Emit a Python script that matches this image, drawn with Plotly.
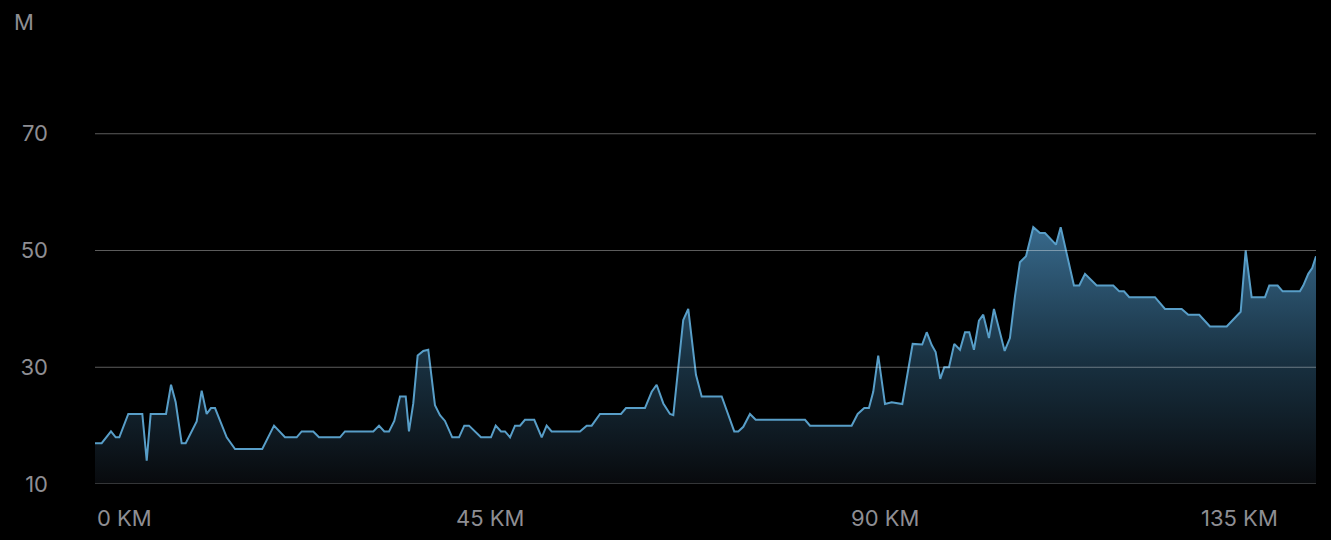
import plotly.graph_objects as go

# distance along route (km) and elevation (m)
distance_km = [0, 0.76, 1.82, 2.36, 2.77, 3.79, 5.13, 5.39, 5.89, 6.34, 7.78, 8.09, 8.66, 9.19,
               9.87, 10.33, 11.58, 12.15, 12.72, 13.21, 13.67, 14.24, 15.0, 15.95, 19.05, 20.39,
               21.64, 22.97, 23.54, 24.86, 25.51, 27.90, 28.47, 31.70, 32.35, 32.95, 33.49, 34.09,
               34.74, 35.39, 35.76, 36.25, 36.75, 37.39, 37.96, 38.72, 39.29, 39.86, 40.69, 41.46,
               42.06, 42.60, 43.96, 45.10, 45.64, 46.24, 46.70, 47.27, 47.84, 48.41, 48.97, 50.03,
               50.88, 51.44, 52.01, 55.24, 56.00, 56.57, 57.52, 59.91, 60.48, 62.64, 63.41, 63.97,
               64.73, 65.49, 65.87, 67.00, 67.57, 68.45, 69.10, 70.62, 71.38, 72.81, 73.27, 73.84,
               74.60, 75.25, 80.87, 81.44, 86.18, 86.87, 87.62, 88.15, 88.64, 89.21, 89.98, 90.74,
               91.95, 93.13, 94.22, 94.73, 95.30, 95.75, 96.27, 96.73, 97.27, 97.87, 98.52, 99.09,
               99.58, 100.11, 100.68, 101.17, 101.82, 102.39, 103.08, 103.61, 104.21, 104.78,
               105.35, 106.04, 106.87, 107.63, 108.20, 109.45, 109.99, 111.50, 112.11, 112.76,
               114.09, 115.98, 116.66, 117.20, 117.80, 120.73, 121.87, 123.77, 124.52, 125.77,
               126.99, 128.90, 130.49, 131.06, 131.74, 132.31, 133.26, 133.75, 134.70, 135.27,
               137.24, 137.62, 138.19, 138.64, 139.07]
elevation_m = [17, 17, 19, 18, 18, 22, 22, 22, 14, 22, 22, 22, 27, 24,
               17, 17, 20.7, 26, 22, 23, 23, 21, 18, 16, 16, 20,
               18, 18, 19, 19, 18, 18, 19, 19, 20, 19, 19, 20.8,
               25, 25, 19, 23.8, 32, 32.8, 33, 23.5, 21.8, 20.8, 18, 18,
               20, 20, 18, 18, 20, 19, 19, 18, 20, 20, 21, 21,
               18, 20, 19, 19, 20, 20, 22, 22, 23, 23, 25.8, 27,
               23.8, 22, 21.8, 38.1, 40, 28.7, 25, 25, 25, 19, 19, 19.8,
               22, 21, 21, 20, 20, 22, 23, 23, 25.8, 32, 23.7, 24,
               23.7, 34, 33.9, 36, 33.8, 32.6, 28, 30, 30, 34, 33, 36,
               36, 33, 38, 39, 35, 40, 36, 32.8, 35, 42.1,
               48, 49, 54, 53, 53, 51, 54, 44, 44, 46,
               44, 44, 43, 43, 42, 42, 40, 40, 39, 39,
               37, 37, 39.5, 50, 42, 42, 42, 44, 44, 43,
               43, 44, 46, 47, 49]

y_grid = [10, 30, 50, 70]
y_tick_labels = ["10", "30", "50", "70"]
x_ticks = [0, 45, 90, 135]
x_tick_labels = ["0 KM", "45 KM", "90 KM", "135 KM"]

text_color = "rgb(142,142,147)"
font_family = "Inter, Roboto, Liberation Sans, sans-serif"

fig = go.Figure()
fig.add_trace(go.Scatter(
    x=distance_km, y=elevation_m, mode="lines",
    line=dict(color="rgb(88,158,200)", width=2),
    fill="tozeroy",
    fillgradient=dict(type="vertical", start=10, stop=56,
                      colorscale=[[0, "rgb(8,10,13)"], [0.45, "rgb(24,48,64)"], [1, "rgb(58,110,146)"]]),
    hoverinfo="skip",
))

for g in y_grid:
    fig.add_shape(type="line", xref="paper", yref="y", x0=0, x1=1, y0=g, y1=g,
                  line=dict(color="rgba(255,255,255,0.36)", width=1), layer="above")

anchors = ["left"] + ["center"] * (len(x_ticks) - 2) + ["right"]
for xv, lab, anc in zip(x_ticks, x_tick_labels, anchors):
    fig.add_annotation(x=xv, xref="x", y=-0.073, yref="paper", text=lab, showarrow=False,
                       xanchor=anc, yanchor="middle",
                       font=dict(color=text_color, size=22, family=font_family))

fig.add_annotation(x=-0.068, xref="paper", y=0.989, yref="paper", text="M", showarrow=False,
                   xanchor="left", yanchor="middle",
                   font=dict(color=text_color, size=22, family=font_family))

fig.update_layout(
    width=1331, height=540,
    paper_bgcolor="black", plot_bgcolor="black",
    margin=dict(l=95, r=15, t=17, b=56),
    showlegend=False,
    xaxis=dict(range=[0, 139.07], showgrid=False, zeroline=False, showticklabels=False,
               showline=False, fixedrange=True),
    yaxis=dict(range=[10, 90], showgrid=False, zeroline=False, tickvals=y_grid,
               ticktext=y_tick_labels, ticklabelstandoff=46,
               tickfont=dict(color=text_color, size=22, family=font_family),
               showline=False, ticks="", fixedrange=True),
)

fig.write_html("out.html", config={"displayModeBar": False},
               post_script="document.body.style.margin='0';document.body.style.background='black';")
